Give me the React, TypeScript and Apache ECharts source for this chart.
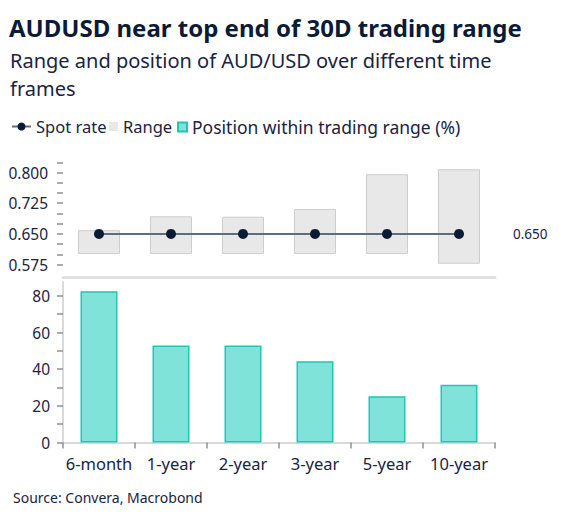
import React, { useEffect, useRef } from "react";
import * as echarts from "echarts";

const categories = ["6-month", "1-year", "2-year", "3-year", "5-year", "10-year"];
const rangeLow = [0.601, 0.601, 0.601, 0.601, 0.601, 0.577];
const rangeHigh = [0.659, 0.693, 0.692, 0.711, 0.796, 0.808];
const spotRate = [0.65, 0.65, 0.65, 0.65, 0.65, 0.65];
const positionPct = [82.6, 53.0, 53.0, 44.4, 25.2, 31.5];

const topTickValues = [0.575, 0.6, 0.625, 0.65, 0.675, 0.7, 0.725, 0.75, 0.775, 0.8, 0.825];
const topLabelValues = [0.575, 0.65, 0.725, 0.8];
const bottomTickValues = [0, 10, 20, 30, 40, 50, 60, 70, 80];
const bottomLabelValues = [0, 20, 40, 60, 80];

const titleText = "AUDUSD near top end of 30D trading range";
const subtitleLines = ["Range and position of AUD/USD over different time", "frames"];
const sourceText = "Source: Convera, Macrobond";

const FONT = "'Noto Sans', sans-serif";
const NAVY = "#0b1b36";
const TEXT = "#1a2340";

export default function App() {
  const ref = useRef<HTMLDivElement>(null);
  useEffect(() => {
    document.body.style.margin = "0";
    const chart = echarts.init(ref.current!, null, { renderer: "svg" });
    const rangeSpan = rangeHigh.map((h, i) => +(h - rangeLow[i]).toFixed(4));
    const legendText = { fontSize: 16.5, color: TEXT, fontFamily: FONT };
    const option: any = {
      animation: false,
      textStyle: { fontFamily: FONT },
      graphic: [
        {
          type: "text",
          x: 9,
          y: 27,
          style: { text: titleText, font: `bold 24px ${FONT}`, fill: NAVY, verticalAlign: "middle" },
        },
        {
          type: "text",
          x: 10,
          y: 60,
          style: { text: subtitleLines[0], font: `20px ${FONT}`, fill: TEXT, verticalAlign: "middle" },
        },
        {
          type: "text",
          x: 10,
          y: 88,
          style: { text: subtitleLines[1], font: `20px ${FONT}`, fill: TEXT, verticalAlign: "middle" },
        },
        {
          type: "text",
          x: 13,
          y: 497,
          style: { text: sourceText, font: `14px ${FONT}`, fill: TEXT, verticalAlign: "middle" },
        },
      ],
      legend: [
        {
          data: ["Spot rate"],
          left: 6,
          top: 113,
          itemWidth: 19,
          itemHeight: 10,
          itemGap: 0,
          textStyle: legendText,
        },
        {
          data: [{ name: "Range", itemStyle: { borderWidth: 0 } }],
          left: 104,
          top: 113,
          icon: "rect",
          itemWidth: 9,
          itemHeight: 9,
          textStyle: legendText,
        },
        {
          data: ["Position within trading range (%)"],
          left: 172,
          top: 113,
          icon: "rect",
          itemWidth: 9,
          itemHeight: 9,
          textStyle: { ...legendText, fontSize: 17.5 },
        },
      ],
      grid: [
        { left: 63, right: 71, top: 160, bottom: 243, containLabel: false },
        { left: 63, right: 71, top: 282, bottom: 77.5, containLabel: false },
      ],
      xAxis: [
        {
          type: "category",
          gridIndex: 0,
          data: categories,
          axisLine: { lineStyle: { color: "#e1e1e1", width: 3 } },
          axisTick: { show: false },
          axisLabel: { show: false },
        },
        {
          type: "category",
          gridIndex: 1,
          data: categories,
          axisLine: { lineStyle: { color: "#dadada", width: 2 } },
          axisTick: { show: true, length: 6, lineStyle: { color: "#8f8f8f", width: 1.5 } },
          axisLabel: { interval: 0, color: TEXT, fontSize: 16.5, fontFamily: FONT, margin: 12 },
        },
      ],
      yAxis: [
        {
          type: "value",
          gridIndex: 0,
          min: 0.5446,
          max: 0.8306,
          splitLine: { show: false },
          axisLine: { show: false },
          axisTick: {
            show: true,
            length: 6,
            customValues: topTickValues,
            lineStyle: { color: "#8f8f8f", width: 1.5 },
          },
          axisLabel: {
            customValues: topLabelValues,
            formatter: (v: number) => v.toFixed(3),
            color: TEXT,
            fontSize: 15.5,
            fontFamily: FONT,
            margin: 15,
          },
        },
        {
          type: "value",
          gridIndex: 1,
          min: 0,
          max: 87.6,
          splitLine: { show: false },
          axisLine: { show: true, lineStyle: { color: "#dadada", width: 2 } },
          axisTick: {
            show: true,
            length: 6,
            customValues: bottomTickValues,
            lineStyle: { color: "#8f8f8f", width: 1.5 },
          },
          axisLabel: {
            customValues: bottomLabelValues,
            color: TEXT,
            fontSize: 15.5,
            fontFamily: FONT,
            margin: 13,
          },
        },
      ],
      series: [
        {
          name: "base",
          type: "bar",
          xAxisIndex: 0,
          yAxisIndex: 0,
          stack: "range",
          data: rangeLow,
          barWidth: 42,
          itemStyle: { color: "transparent" },
          silent: true,
          z: 1,
        },
        {
          name: "Range",
          type: "bar",
          xAxisIndex: 0,
          yAxisIndex: 0,
          stack: "range",
          data: rangeSpan,
          barWidth: 42,
          itemStyle: { color: "#e8e8e8", borderColor: "#cdcdcd", borderWidth: 1 },
          z: 1,
        },
        {
          name: "Spot rate",
          type: "line",
          xAxisIndex: 0,
          yAxisIndex: 0,
          data: spotRate,
          symbol: "circle",
          symbolSize: 10,
          lineStyle: { color: "#5e6d7c", width: 2 },
          itemStyle: { color: NAVY },
          z: 5,
          endLabel: {
            show: true,
            distance: 54,
            formatter: (p: any) => Number(p.value).toFixed(3),
            color: TEXT,
            fontSize: 13.5,
            fontFamily: FONT,
          },
        },
        {
          name: "Position within trading range (%)",
          type: "bar",
          xAxisIndex: 1,
          yAxisIndex: 1,
          data: positionPct,
          barWidth: 37,
          itemStyle: { color: "#80e3d9", borderColor: "#1fc6b3", borderWidth: 1.5 },
        },
      ],
    };
    chart.setOption(option);
    return () => chart.dispose();
  }, []);
  return (
    <div
      ref={ref}
      style={{ position: "absolute", left: 0, top: 0, width: 566, height: 520, background: "#fff" }}
    />
  );
}
